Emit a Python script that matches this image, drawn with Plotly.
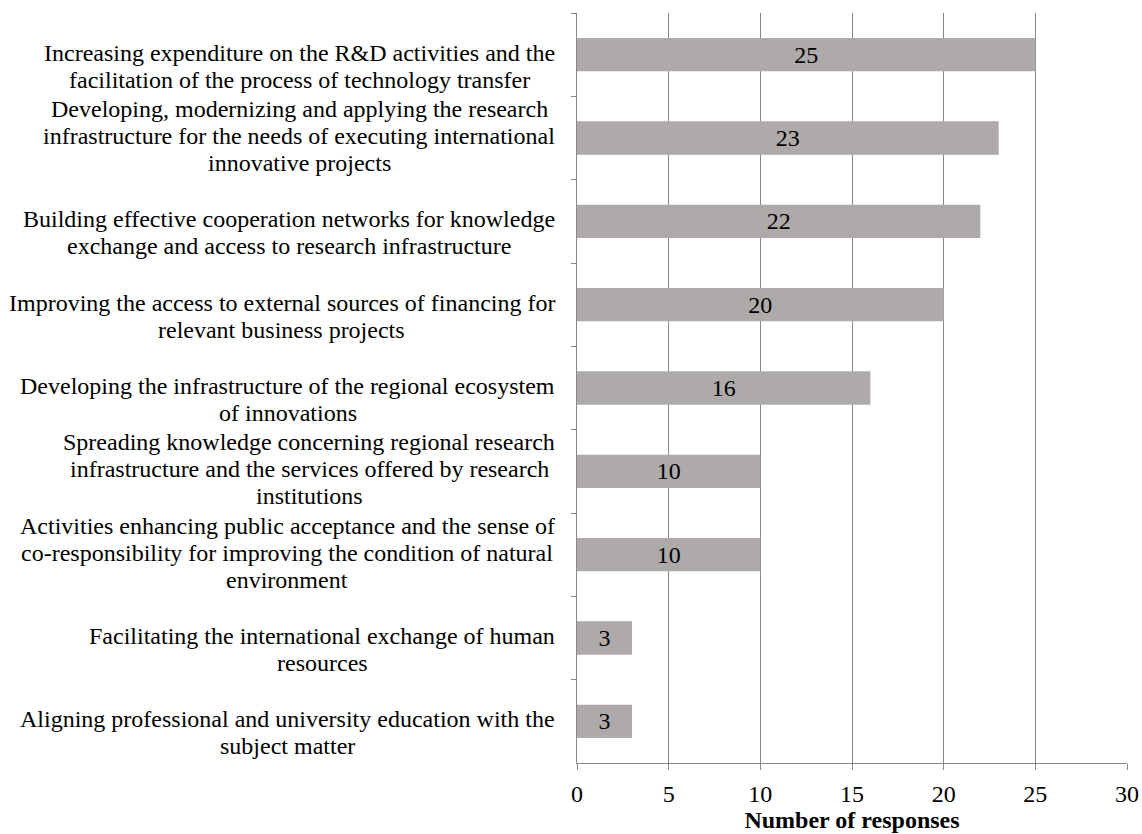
import plotly.graph_objects as go

# ---------------- data ----------------
categories = [
    "Increasing expenditure on the R&D activities and the<br>facilitation of the process of technology transfer",
    "Developing, modernizing and applying the research<br>infrastructure for the needs of executing international<br>innovative projects",
    "Building effective cooperation networks for knowledge<br>exchange and access to research infrastructure",
    "Improving the access to external sources of financing for<br>relevant business projects",
    "Developing the infrastructure of the regional ecosystem<br>of innovations",
    "Spreading knowledge concerning regional research<br>infrastructure and the services offered by research<br>institutions",
    "Activities enhancing public acceptance and the sense of<br>co-responsibility for improving the condition of natural<br>environment",
    "Facilitating the international exchange of human<br>resources",
    "Aligning professional and university education with the<br>subject matter",
]
responses = [25, 23, 22, 20, 16, 10, 10, 3, 3]
x_tick_values = [0, 5, 10, 15, 20, 25, 30]
x_axis_title = "Number of responses"

# ---------------- style ----------------
FONT = "Liberation Serif, Times New Roman, serif"
FS = 24
GRAY = "#888888"
BAR = "#AEAAAA"
LINE_H = 27      # label line spacing (px)
GAP = 22         # distance between label block and y axis (px)

# Times (Liberation Serif) advance widths, per 1000 em, used to centre the
# lines of each wrapped category label inside a right-aligned block
ADV = {' ': 250, ',': 250, '-': 333, '&': 778,
       'A': 722, 'B': 667, 'C': 667, 'D': 722, 'E': 611, 'F': 556, 'G': 722,
       'H': 722, 'I': 333, 'J': 389, 'K': 722, 'L': 611, 'M': 889, 'N': 722,
       'O': 722, 'P': 556, 'Q': 722, 'R': 667, 'S': 556, 'T': 611, 'U': 722,
       'V': 722, 'W': 944, 'X': 722, 'Y': 722, 'Z': 611,
       'a': 444, 'b': 500, 'c': 444, 'd': 500, 'e': 444, 'f': 333, 'g': 500,
       'h': 500, 'i': 278, 'j': 278, 'k': 500, 'l': 278, 'm': 778, 'n': 500,
       'o': 500, 'p': 500, 'q': 500, 'r': 333, 's': 389, 't': 278, 'u': 500,
       'v': 500, 'w': 722, 'x': 500, 'y': 500, 'z': 444}


def text_width(s):
    return sum(ADV.get(c, 500) for c in s) / 1000.0 * FS


fig = go.Figure()
fig.add_trace(go.Bar(
    x=responses,
    y=categories,
    orientation="h",
    marker=dict(color=BAR, line=dict(width=0)),
    text=[str(v) for v in responses],
    textposition="inside",
    insidetextanchor="middle",
    constraintext="none",
    textfont=dict(family=FONT, size=FS, color="black"),
    hoverinfo="skip",
))

annotations = []
for cat in categories:
    lines = cat.split("<br>")
    n = len(lines)
    block_w = max(text_width(l) for l in lines)
    for k, line in enumerate(lines):
        off = k - (n - 1) // 2
        annotations.append(dict(
            text=line, xref="paper", yref="y", x=0, y=cat,
            xanchor="center", yanchor="middle",
            xshift=-(GAP + block_w / 2.0), yshift=2 - off * LINE_H,
            showarrow=False, align="center",
            font=dict(family=FONT, size=FS, color="black"),
        ))

fig.update_layout(
    width=1142, height=834,
    margin=dict(l=577, r=15, t=13, b=71, autoexpand=False),
    paper_bgcolor="white", plot_bgcolor="white",
    bargap=0.6,
    showlegend=False,
    annotations=annotations,
    font=dict(family=FONT, size=FS, color="black"),
)

fig.update_xaxes(
    range=[0, 30], tickvals=x_tick_values,
    automargin=False,
    showgrid=True, gridcolor=GRAY, gridwidth=1,
    showline=True, linecolor=GRAY, linewidth=1,
    ticks="outside", ticklen=6, tickcolor=GRAY, tickwidth=1,
    ticklabelstandoff=3,
    zeroline=False,
    tickfont=dict(family=FONT, size=FS, color="black"),
    title=dict(text=x_axis_title, standoff=2,
               font=dict(family=FONT, size=FS, color="black", weight="bold")),
)
fig.update_yaxes(
    type="category", autorange="reversed", automargin=False,
    showticklabels=False, showgrid=False,
    showline=True, linecolor=GRAY, linewidth=1,
    ticks="outside", tickson="boundaries", ticklen=5, tickcolor=GRAY, tickwidth=1,
    zeroline=False,
)

fig.write_html("out.html")
